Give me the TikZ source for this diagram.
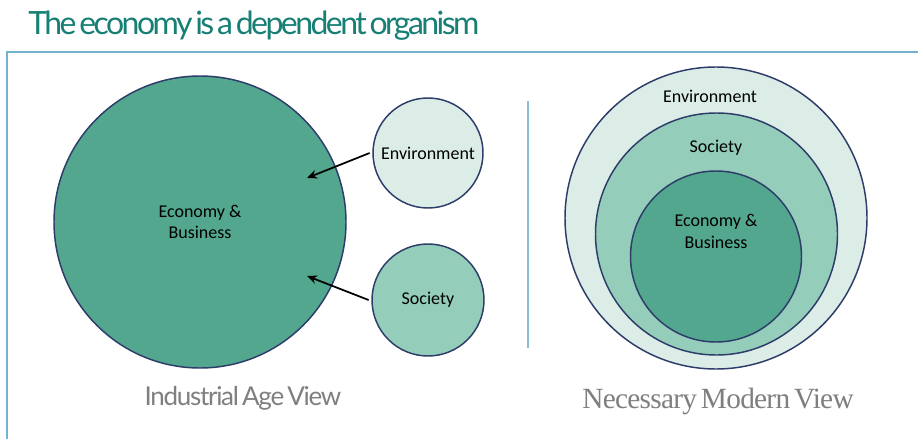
\documentclass[tikz,border=0pt]{standalone}
\usepackage{fontspec}
\setmainfont{Carlito}
\newfontfamily\headfont[LetterSpace=-8,WordSpace=0.5]{Lato}
\newfontfamily\oldviewfont[LetterSpace=-5,WordSpace=0.6]{Lato}
\newfontfamily\newviewfont[LetterSpace=-2.5,WordSpace=0.6]{Liberation Serif}
\usepackage{xcolor}
\usepackage{tikz}
\usetikzlibrary{positioning,arrows.meta}

\definecolor{titleteal}{HTML}{177F74}
\definecolor{framblue}{HTML}{74B3CF}
\definecolor{ringnavy}{HTML}{2E3C6A}
\definecolor{ecofill}{HTML}{52A78E}
\definecolor{socfill}{HTML}{94CDBA}
\definecolor{envfill}{HTML}{DBEDE6}
\definecolor{viewgray}{HTML}{7F7F7F}

\tikzset{
    ring/.style={circle, draw=ringnavy, line width=1.1pt, inner sep=0pt,
                 align=center, font=\fontsize{13.5}{16}\selectfont},
    ringtext/.style={align=center, inner sep=0pt, font=\fontsize{13.5}{16.5}\selectfont},
    pointer/.style={-{Stealth[length=7.5pt,width=6.5pt]}, line width=1.3pt},
    viewlabel/.style={anchor=base, text=viewgray, inner sep=0pt}
}

\begin{document}
\begin{tikzpicture}[x=0.75pt,y=-0.75pt]
    \clip (0,0) rectangle (918,439);
    \fill[white] (0,0) rectangle (918,439);

    % heading and frame
    \node[anchor=base west, inner sep=0pt, text=titleteal,
          font=\headfont\fontsize{24}{28}\selectfont]
          (title) at (28,35) {The economy is a dependent organism};
    \draw[framblue, line width=2pt] (7,460) -- (7,52) -- (940,52);
    \draw[framblue!85, line width=1.6pt] (528,101) -- (528,348);

    % industrial age view
    \node[ring, fill=ecofill, minimum size=219pt] (ecoL) at (200,222) {Economy \&\\Business};
    \node[ring, fill=envfill, minimum size=82.5pt] (envL) at (428,153) {Environment};
    \node[ring, fill=socfill, minimum size=84pt] (socL) at (428,300) {Society};
    \coordinate (envhit) at (307,178);
    \coordinate (sochit) at (307,276);
    \draw[pointer] ([xshift=-2pt]envL.west) -- (envhit);
    \draw[pointer] ([xshift=-2pt]socL.west) -- (sochit);

    % necessary modern view
    \node[ring, fill=envfill, minimum size=226.5pt] (envR) at (716,218) {};
    \node[ring, fill=socfill, minimum size=181.5pt] (socR) at (716.5,234) {};
    \node[ring, fill=ecofill, minimum size=128.25pt] (ecoR) at (716,256.5) {};
    \node[ringtext] (envRtext) at (710,96) {Environment};
    \node[ringtext] (socRtext) at (716,148) {Society};
    \node[ringtext] (ecoRtext) at (716,231) {Economy \&\\Business};

    % captions
    \node[viewlabel, font=\oldviewfont\fontsize{19.5}{22}\selectfont]
          (oldview) at (243,405) {Industrial Age View};
    \node[viewlabel, font=\newviewfont\fontsize{22}{24}\selectfont]
          (newview) at (718,408) {Necessary Modern View};
\end{tikzpicture}
\end{document}
